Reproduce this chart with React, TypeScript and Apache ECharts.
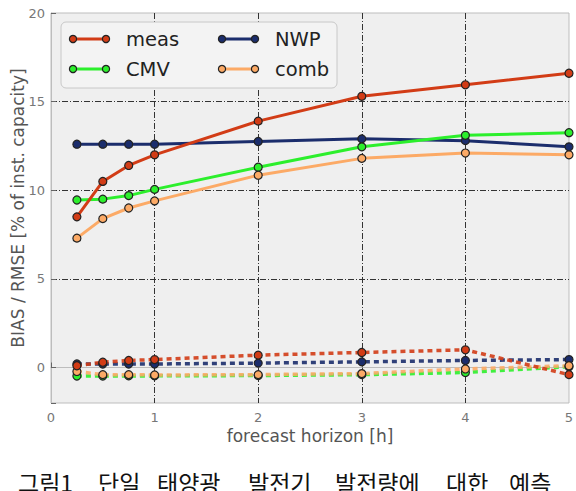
import React, { useEffect, useRef } from "react";
import * as echarts from "echarts";

const horizons = [0.25, 0.5, 0.75, 1, 2, 3, 4, 5];
const legendNames = ["meas", "CMV", "NWP", "comb"];
const rmseMeas = [8.5, 10.5, 11.4, 12.0, 13.9, 15.3, 15.95, 16.6];
const rmseCMV = [9.45, 9.5, 9.7, 10.05, 11.3, 12.45, 13.1, 13.25];
const rmseNWP = [12.6, 12.6, 12.6, 12.6, 12.75, 12.9, 12.8, 12.45];
const rmseComb = [7.3, 8.4, 9.0, 9.4, 10.85, 11.8, 12.1, 12.0];
const biasMeas = [0.1, 0.3, 0.4, 0.45, 0.7, 0.85, 1.0, -0.4];
const biasCMV = [-0.48, -0.48, -0.47, -0.47, -0.45, -0.4, -0.28, 0.05];
const biasNWP = [0.2, 0.2, 0.2, 0.2, 0.25, 0.32, 0.4, 0.45];
const biasComb = [-0.22, -0.4, -0.4, -0.42, -0.4, -0.34, -0.08, 0.1];
const captionWords = ["그림1", "단일", "태양광", "발전기", "발전량에", "대한", "예측"];

const colors = ["#d23c16", "#2cef2c", "#1b2d6c", "#fcaa66"];

export default function App() {
  const ref = useRef<HTMLDivElement>(null);
  useEffect(() => {
    if (!ref.current) return;
    const chart = echarts.init(ref.current, undefined, { renderer: "svg" });
    const font = "DejaVu Sans";
    const pair = (vals: number[]) => horizons.map((h, i) => [h, vals[i]]);
    const mk = (name: string, vals: number[], color: string, dashed: boolean, z: number) => ({
      name,
      type: "line",
      data: pair(vals),
      symbol: "circle",
      symbolSize: 8,
      z,
      clip: false,
      itemStyle: { color, borderColor: "#222", borderWidth: 1.2 },
      lineStyle: dashed
        ? { color, width: 3.5, type: [5, 4], opacity: 0.9 }
        : { color, width: 3 },
      emphasis: { disabled: true },
    });
    const rmse = [rmseMeas, rmseCMV, rmseNWP, rmseComb];
    const bias = [biasMeas, biasCMV, biasNWP, biasComb];
    const series: any[] = [];
    [2, 1, 3, 0].forEach((i) => {
      series.push(mk(legendNames[i] + " bias", bias[i], colors[i], true, 2));
    });
    [2, 1, 3, 0].forEach((i) => {
      series.push(mk(legendNames[i], rmse[i], colors[i], false, 3));
    });

    const legendPos = [
      { lx: 73, tx: 126, y: 39 },
      { lx: 73, tx: 126, y: 69 },
      { lx: 222, tx: 275, y: 39 },
      { lx: 222, tx: 275, y: 69 },
    ];
    const legendEls: any[] = [
      {
        type: "rect",
        shape: { x: 61, y: 22, width: 276, height: 66, r: 5 },
        style: { fill: "#f3f3f3", stroke: "#c8c8c8", lineWidth: 1 },
        z: 10,
      },
    ];
    legendNames.forEach((n, i) => {
      const p = legendPos[i];
      legendEls.push({
        type: "line",
        shape: { x1: p.lx, y1: p.y, x2: p.lx + 33, y2: p.y },
        style: { stroke: colors[i], lineWidth: 3 },
        z: 11,
      });
      [p.lx, p.lx + 33].forEach((cx) =>
        legendEls.push({
          type: "circle",
          shape: { cx, cy: p.y, r: 3.6 },
          style: { fill: colors[i], stroke: "#222", lineWidth: 1.2 },
          z: 12,
        })
      );
      legendEls.push({
        type: "text",
        x: p.tx,
        y: p.y,
        style: {
          text: n,
          font: `19.5px '${font}'`,
          fill: "#222",
          verticalAlign: "middle",
          align: "left",
        },
        z: 12,
      });
    });

    const captionX = [18, 98, 157, 248, 335, 446, 509];
    const captionEls = captionWords.map((w, i) => ({
      type: "text",
      x: captionX[i],
      y: 470,
      style: {
        text: w,
        font: "23px 'Noto Sans CJK KR'",
        fill: "#111",
        verticalAlign: "top",
        align: "left",
      },
    }));

    chart.setOption({
      animation: false,
      backgroundColor: "#ffffff",
      grid: {
        left: 51,
        right: 7,
        top: 13,
        bottom: 88,
        containLabel: false,
        outerBoundsMode: "none",
        show: true,
        backgroundColor: "#efefef",
        borderColor: "#bdbdbd",
        borderWidth: 1,
      },
      xAxis: {
        type: "value",
        min: 0,
        max: 5,
        interval: 1,
        name: "forecast horizon [h]",
        nameLocation: "middle",
        nameGap: 24,
        nameMoveOverlap: false,
        nameTextStyle: { fontFamily: font, fontSize: 17, color: "#555" },
        axisLine: { show: true, lineStyle: { color: "#bdbdbd" } },
        axisTick: { show: true, inside: true, length: 5, lineStyle: { color: "#666" } },
        axisLabel: { fontFamily: font, fontSize: 13, color: "#777", margin: 8 },
        splitLine: {
          show: true,
          showMinLine: false,
          showMaxLine: false,
          lineStyle: { color: "#333", width: 1, type: [6, 2, 1, 2] },
        },
      },
      yAxis: {
        type: "value",
        min: -2,
        max: 20,
        name: "BIAS / RMSE [% of inst. capacity]",
        nameLocation: "middle",
        nameGap: 25,
        nameMoveOverlap: false,
        nameTextStyle: { fontFamily: font, fontSize: 17, color: "#555" },
        axisLine: { show: true, lineStyle: { color: "#bdbdbd" } },
        axisTick: { show: true, inside: true, length: 5, lineStyle: { color: "#666" } },
        axisLabel: {
          fontFamily: font,
          fontSize: 13,
          color: "#777",
          margin: 6,
          formatter: (v: number) => (v === -2 ? "" : String(v)),
        },
        splitLine: {
          show: true,
          showMinLine: false,
          showMaxLine: false,
          lineStyle: { color: "#333", width: 1, type: [6, 2, 1, 2] },
        },
      },
      series,
      graphic: [...legendEls, ...captionEls],
    });
    return () => chart.dispose();
  }, []);
  return <div ref={ref} style={{ width: 576, height: 491, position: "absolute", left: 0, top: 0 }} />;
}
